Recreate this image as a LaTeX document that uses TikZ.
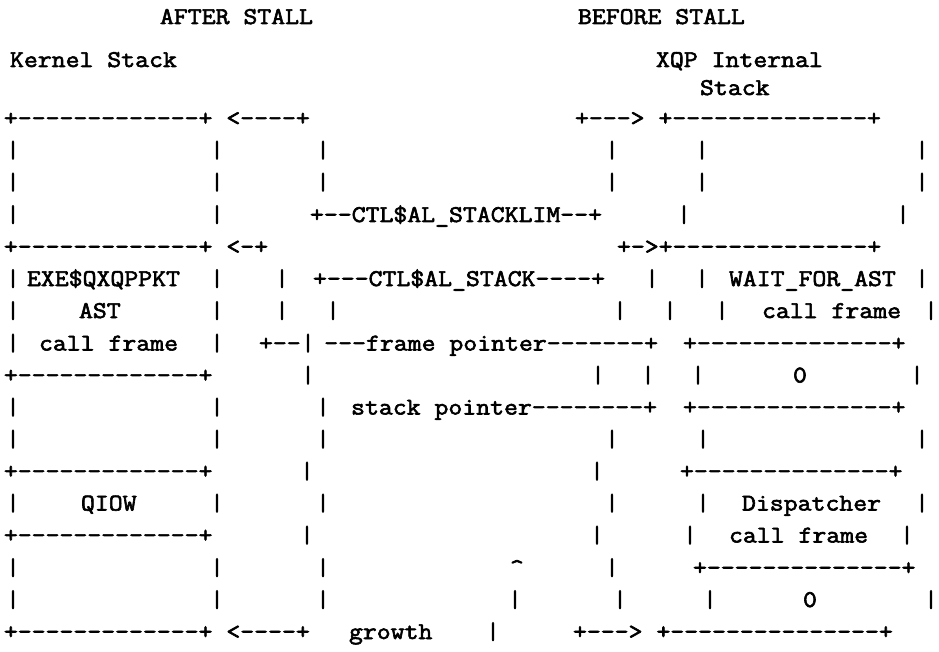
\documentclass[tikz,border=0pt]{standalone}
\usepackage{fontspec}
\setmonofont{Latin Modern Mono}[FakeStretch=1.125,FakeBold=2.5]
\tikzset{
  txt/.style={font=\ttfamily\fontsize{24}{24}\selectfont, inner sep=0pt, outer sep=0pt, anchor=base west},
  bar/.style={txt, anchor=base},
  txtr/.style={txt, anchor=base east}
}
\begin{document}
\begin{tikzpicture}[x=1pt,y=-1pt]
\fill[white] (0,0) rectangle (939,652);
\useasboundingbox (0,0) rectangle (939,652);
% text strings: left edge / baseline / text
\foreach \x/\y/\t [count=\i] in {
160/24/AFTER STALL,
578/24/BEFORE STALL,
10/67/Kernel Stack,
656/67/XQP Internal,
700/95/Stack,
3.9/125.5/+-------------+ <----+,
575/125.5/+---> +--------------+,
310/222/+--CTL\$AL\_STACKLIM--+,
3.9/254/+-------------+ <-+,
617/254/+->+--------------+,
27/286/EXE\$QXQPPKT,
313/286/+---CTL\$AL\_STACK----+,
729/286/WAIT\_FOR\_AST,
79/318/AST,
762/318/call frame,
39/350.5/call frame,
259/350.5/+--,
683/350.5/+--------------+,
3.9/382.5/+-------------+,
793/382.5/0,
683/414.5/+--------------+,
3.9/478.5/+-------------+,
680/478.5/+--------------+,
81/510.5/QIOW,
742/510.5/Dispatcher,
3.9/542.5/+-------------+,
729/542.5/call frame,
510/575/\textasciicircum,
693/575/+--------------+,
803/607/0,
3.9/639/+-------------+ <----+,
349/639/growth,
573/639/+---> +---------------+
} { \node[txt] (s\i) at (\x,\y) {\t}; }
% pointer lines, ending at their corner
\node[txtr] (fp) at (658,350.5) {---frame pointer-------+};
\node[txtr] (sp) at (657,414.5) {stack pointer--------+};
% vertical bars: baseline / centres
\foreach \y/\xs [count=\j] in {
157.5/{13,217,323,612,702,922},
189.5/{13,217,323,612,702,922},
222/{13,217,684,903},
286/{13,217,282,652,702,922},
318/{13,217,282,333,620,670,722,931},
350.5/{13,217,308},
382.5/{308,598,648,698,917},
414.5/{13,217,323},
446.5/{13,217,323,612,703,922},
478.5/{307,597},
510.5/{13,217,323,612,703,922},
542.5/{307,597,690,907},
575/{13,217,323,612},
607/{13,217,323,515,620,710,931},
639/{493}
} { \foreach \x [count=\i] in \xs { \node[bar] (b\j-\i) at (\x,\y) {|}; } }
\end{tikzpicture}
\end{document}
